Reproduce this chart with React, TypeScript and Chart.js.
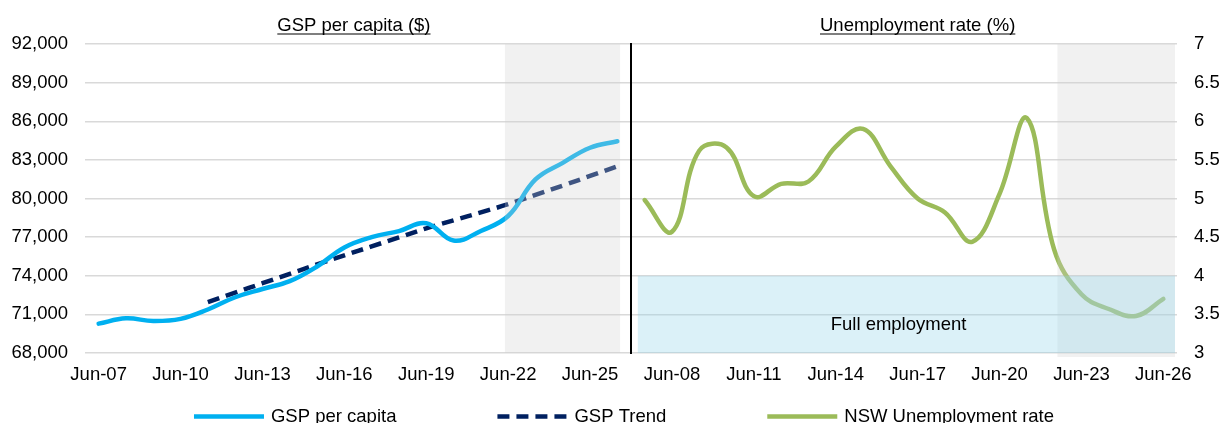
import React, { useEffect, useRef } from 'react';
import { Chart, registerables } from 'chart.js';

Chart.register(...registerables);

// ---- Data ----
const years = [
  'Jun-07', 'Jun-08', 'Jun-09', 'Jun-10', 'Jun-11', 'Jun-12', 'Jun-13', 'Jun-14', 'Jun-15', 'Jun-16',
  'Jun-17', 'Jun-18', 'Jun-19', 'Jun-20', 'Jun-21', 'Jun-22', 'Jun-23', 'Jun-24', 'Jun-25', 'Jun-26',
];
const gspPerCapita = [
  70280, 70690, 70480, 70650, 71380, 72330, 72970, 73580, 74720, 76200,
  77000, 77470, 78080, 76730, 77480, 78640, 81480, 82770, 83940, 84450,
];
const gspTrendYears = [
  'Jun-11', 'Jun-12', 'Jun-13', 'Jun-14', 'Jun-15', 'Jun-16', 'Jun-17', 'Jun-18',
  'Jun-19', 'Jun-20', 'Jun-21', 'Jun-22', 'Jun-23', 'Jun-24', 'Jun-25', 'Jun-26',
];
const gspTrend = [
  71950, 72680, 73420, 74150, 74880, 75580, 76280, 76980,
  77680, 78300, 78920, 79560, 80280, 81000, 81750, 82500,
];
const unemploymentRate = [
  4.98, 4.57, 5.62, 5.66, 5.03, 5.19, 5.22, 5.67, 5.90, 5.42,
  5.00, 4.82, 4.44, 5.06, 6.04, 4.34, 3.76, 3.57, 3.48, 3.70,
];
const gspTicks = [68000, 71000, 74000, 77000, 80000, 83000, 86000, 89000, 92000];
const rateTicks = [3, 3.5, 4, 4.5, 5, 5.5, 6, 6.5, 7];
const panelTitles = ['GSP per capita ($)', 'Unemployment rate (%)'];
const seriesNames = ['GSP per capita', 'GSP Trend', 'NSW Unemployment rate'];
const forecastStart = 'Jun-22';
const fullEmploymentBand = [3, 4];
const fullEmploymentLabel = 'Full employment';

const FONT_FAMILY = '"Liberation Sans", Arial, Helvetica, sans-serif';
const FONT_SIZE = 18.5;
const COLORS = { gsp: '#00B0F0', trend: '#002060', rate: '#9BBB59' };

const allLabels = [...years, ...years];
const n = years.length;

const overlayPlugin = {
  id: 'overlay',
  afterDatasetsDraw(chart: any) {
    const { ctx, chartArea: ca, scales } = chart;
    const x = scales.x;
    const yR = scales.yR;
    const fIdx = years.indexOf(forecastStart);
    ctx.save();

    // shaded forecast periods
    ctx.fillStyle = 'rgba(210,210,210,0.3)';
    const lx0 = x.getPixelForValue(fIdx - 0.12);
    const lx1 = x.getPixelForValue(n - 1 + 0.1);
    ctx.fillRect(lx0, ca.top, lx1 - lx0, ca.bottom - ca.top);
    const rx0 = x.getPixelForValue(n + fIdx + 0.12);
    ctx.fillRect(rx0, ca.top, ca.right - 2 - rx0, ca.bottom + 4 - ca.top);

    // full employment band
    const bx0 = x.getPixelForValue(n - 0.25);
    const by0 = yR.getPixelForValue(fullEmploymentBand[1]);
    const by1 = yR.getPixelForValue(fullEmploymentBand[0]);
    ctx.fillStyle = 'rgba(145,213,235,0.33)';
    ctx.fillRect(bx0, by0, ca.right - 2 - bx0, by1 - by0);

    // separator
    const sx = x.getPixelForValue(n - 0.5);
    ctx.strokeStyle = '#000';
    ctx.lineWidth = 2;
    ctx.beginPath();
    ctx.moveTo(sx, ca.top - 1);
    ctx.lineTo(sx, ca.bottom + 1);
    ctx.stroke();

    ctx.font = `${FONT_SIZE}px ${FONT_FAMILY}`;
    ctx.fillStyle = '#000';
    ctx.textAlign = 'center';
    ctx.textBaseline = 'alphabetic';
    ctx.fillText(fullEmploymentLabel, x.getPixelForValue(29.3), yR.getPixelForValue(3.3));

    // panel titles (underlined)
    const titleX = [x.getPixelForValue(9.35), x.getPixelForValue(30.0)];
    panelTitles.forEach((t, i) => {
      const cx = titleX[i];
      ctx.fillText(t, cx, 31);
      const w = ctx.measureText(t).width;
      ctx.lineWidth = 1.2;
      ctx.beginPath();
      ctx.moveTo(cx - w / 2, 34);
      ctx.lineTo(cx + w / 2, 34);
      ctx.stroke();
    });

    // legend
    const sampleW = 70;
    const textGap = 7;
    const itemGap = 101;
    const ds = chart.data.datasets;
    const widths = ds.map((d: any) => sampleW + textGap + ctx.measureText(d.label).width);
    const total = widths.reduce((a: number, b: number) => a + b, 0) + itemGap * (ds.length - 1);
    let cursor = (ca.left + ca.right) / 2 - 7 - total / 2;
    const ly = 416.5;
    ctx.textAlign = 'left';
    ctx.textBaseline = 'middle';
    ds.forEach((d: any, i: number) => {
      ctx.save();
      ctx.strokeStyle = d.borderColor;
      ctx.lineWidth = d.borderWidth;
      ctx.setLineDash(d.borderDash || []);
      ctx.lineCap = 'butt';
      ctx.beginPath();
      ctx.moveTo(cursor, ly);
      ctx.lineTo(cursor + sampleW, ly);
      ctx.stroke();
      ctx.restore();
      ctx.fillStyle = '#000';
      ctx.fillText(d.label, cursor + sampleW + textGap, ly);
      cursor += widths[i] + itemGap;
    });
    ctx.restore();
  },
};

export default function App() {
  const canvasRef = useRef<HTMLCanvasElement | null>(null);

  useEffect(() => {
    const canvas = canvasRef.current;
    if (!canvas) return;
    const nulls = Array(n).fill(null);
    const trendData = years.map((y) => {
      const i = gspTrendYears.indexOf(y);
      return i >= 0 ? gspTrend[i] : null;
    });
    const font = { family: FONT_FAMILY, size: FONT_SIZE };

    const chart = new Chart(canvas, {
      type: 'line',
      data: {
        labels: allLabels,
        datasets: [
          {
            label: seriesNames[0],
            data: [...gspPerCapita, ...nulls],
            borderColor: COLORS.gsp,
            backgroundColor: COLORS.gsp,
            borderWidth: 4.5,
            pointRadius: 0,
            tension: 0.4,
            borderCapStyle: 'round',
            yAxisID: 'y',
          },
          {
            label: seriesNames[1],
            data: [...trendData, ...nulls],
            borderColor: COLORS.trend,
            backgroundColor: COLORS.trend,
            borderWidth: 4.5,
            borderDash: [12, 7],
            pointRadius: 0,
            tension: 0.4,
            yAxisID: 'y',
          },
          {
            label: seriesNames[2],
            data: [...nulls, ...unemploymentRate],
            borderColor: COLORS.rate,
            backgroundColor: COLORS.rate,
            borderWidth: 4.5,
            pointRadius: 0,
            tension: 0.4,
            borderCapStyle: 'round',
            yAxisID: 'yR',
          },
        ],
      },
      options: {
        responsive: false,
        animation: false,
        layout: { padding: { top: 44, bottom: 30, left: 0, right: 0 } },
        plugins: {
          legend: { display: false },
          tooltip: { enabled: false },
          title: { display: false },
        },
        scales: {
          x: {
            type: 'category',
            offset: true,
            grid: { display: false, drawTicks: false },
            border: { display: false },
            ticks: {
              autoSkip: false,
              maxRotation: 0,
              minRotation: 0,
              padding: 11,
              color: '#000',
              font,
              callback: (_v: any, idx: number) => (idx % 3 === 0 ? allLabels[idx] : null),
            },
            afterFit: (s: any) => {
              s.height = 40;
            },
          },
          y: {
            position: 'left',
            min: gspTicks[0],
            max: gspTicks[gspTicks.length - 1],
            afterBuildTicks: (s: any) => {
              s.ticks = gspTicks.map((v) => ({ value: v }));
            },
            grid: { color: '#d9d9d9', lineWidth: 1.5, drawTicks: false },
            border: { display: false },
            ticks: {
              padding: 17,
              color: '#000',
              font,
              callback: (v: any) => Number(v).toLocaleString('en-US'),
            },
            afterFit: (s: any) => {
              s.width = 85;
            },
          },
          yR: {
            position: 'right',
            min: rateTicks[0],
            max: rateTicks[rateTicks.length - 1],
            afterBuildTicks: (s: any) => {
              s.ticks = rateTicks.map((v) => ({ value: v }));
            },
            grid: { display: false, drawOnChartArea: false, drawTicks: false },
            border: { display: false },
            ticks: {
              padding: 17,
              color: '#000',
              font,
              callback: (v: any) => String(v),
            },
            afterFit: (s: any) => {
              s.width = 46;
            },
          },
        },
      },
      plugins: [overlayPlugin],
    } as any);

    return () => {
      chart.destroy();
    };
  }, []);

  return (
    <div style={{ position: 'absolute', left: 0, top: 0, width: 1223, height: 423, background: '#fff' }}>
      <canvas ref={canvasRef} width={1223} height={423} style={{ display: 'block' }} />
    </div>
  );
}
